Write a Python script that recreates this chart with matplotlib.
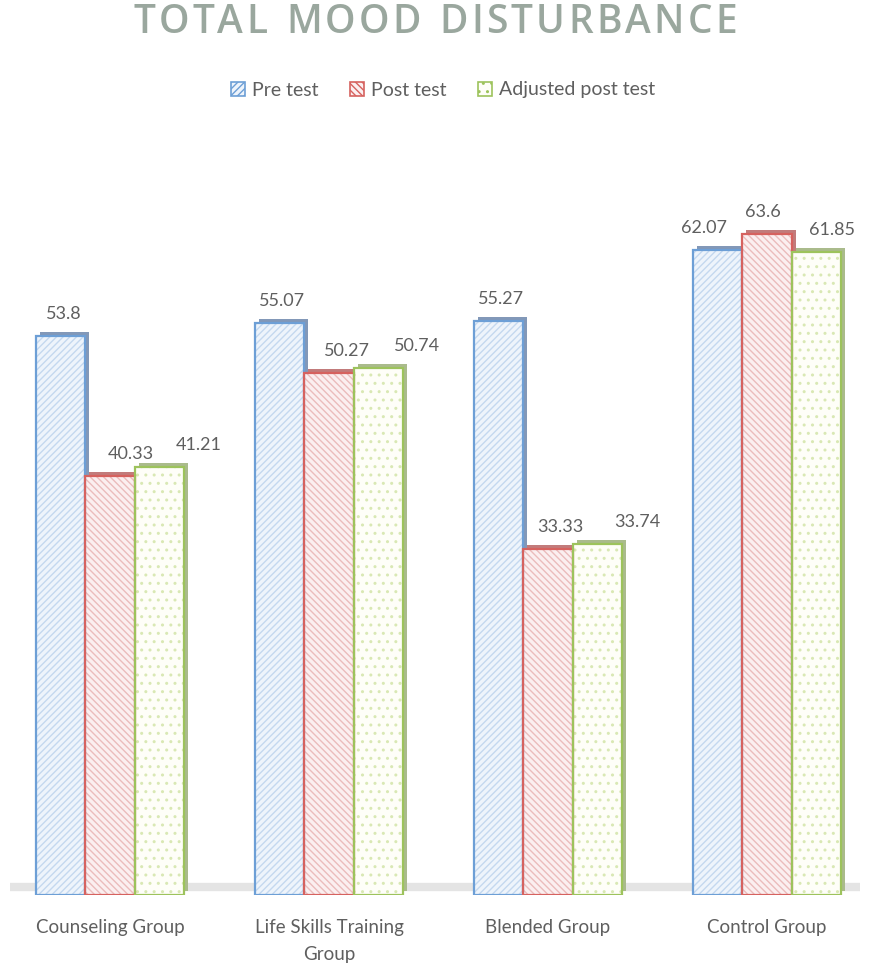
import matplotlib
matplotlib.use("Agg")
import matplotlib.pyplot as plt
import matplotlib.transforms as mtransforms
from matplotlib.patches import Patch
import numpy as np

# ---- data ----
categories = ["Counseling Group", "Life Skills Training\nGroup", "Blended Group", "Control Group"]
series_names = ["Pre test", "Post test", "Adjusted post test"]
pre_test = [53.8, 55.07, 55.27, 62.07]
post_test = [40.33, 50.27, 33.33, 63.6]
adjusted_post_test = [41.21, 50.74, 33.74, 61.85]
title = "TOTAL MOOD DISTURBANCE"

# ---- styling ----
FONT = "Lato"
TEXT = "#5f5f5f"
face_colors = ["#eef4fb", "#fbeff0", "#fefef8"]
hatch_colors = ["#c4d8ef", "#ebbcbc", "#d9e8b4"]
hatches = ["/////", "\\\\\\\\\\", ".."]
edge_colors = ["#6d9fd6", "#d6625f", "#9dc35c"]
side_colors = ["#8298b8", "#c27b7b", "#aabb8c"]
# horizontal nudges (pixels) of the value labels, per series and group
label_dx = [[3, 2, 2, -14], [21, 18, 12, -4], [40, 39, 40, 16]]

W, H, DPI = 870, 966, 100
fig = plt.figure(figsize=(W / DPI, H / DPI), dpi=DPI)
fig.patch.set_facecolor("white")

# axes placement: group centres at 110 + 219*i pixels, baseline at 895 px
left_px, right_px = 10, 860
base_px = 895
ymax = 70
px_per_unit = 10.39
ax = fig.add_axes([left_px / W, (H - base_px) / H,
                   (right_px - left_px) / W, ymax * px_per_unit / H])
ax.set_xlim((left_px - 110) / 219, (right_px - 110) / 219)
ax.set_ylim(0, ymax)
for s in ax.spines.values():
    s.set_visible(False)
ax.set_yticks([])

x = np.arange(len(categories))
width = 0.224
values = [pre_test, post_test, adjusted_post_test]
offsets = [-width, 0, width]

# depth of the extruded bars (pixels)
depth = mtransforms.ScaledTranslation(4 / DPI, 4 / DPI, fig.dpi_scale_trans)

# floor band
ax.axhline(0.75, color="#e2e2e2", lw=6, zorder=0.5, alpha=0.9)

for k in range(3):
    xs = x + offsets[k]
    # side/top faces: same bars shifted up and right, drawn behind
    sides = ax.bar(xs, values[k], width, color=side_colors[k], linewidth=0,
                   zorder=1 + k * 0.01)
    for b in sides:
        b.set_transform(ax.transData + depth)
    # textured front face
    ax.bar(xs, values[k], width, color=face_colors[k], hatch=hatches[k],
           edgecolor=hatch_colors[k], linewidth=0, zorder=2)
    # outline
    ax.bar(xs, values[k], width, fill=False, edgecolor=edge_colors[k],
           linewidth=1.6, zorder=3)
    for i, v in enumerate(values[k]):
        ax.annotate(f"{v:g}", (xs[i], v), xytext=(label_dx[k][i], 22),
                    textcoords="offset pixels", ha="center", va="center",
                    fontsize=13, color=TEXT, family=FONT, zorder=5)

ax.set_xticks(x)
ax.set_xticklabels(categories, fontsize=13.5, color=TEXT, family=FONT,
                   linespacing=1.75)
ax.tick_params(axis="x", length=0, pad=17)

# title, letter-spaced: lay out the characters one by one
renderer = fig.canvas.get_renderer()
title_kw = dict(fontsize=28, color="#9aa79e", family="Open Sans",
                fontweight="semibold", va="center", ha="left")
tracking = 3.2  # extra pixels between letters
widths = []
for ch in title:
    t = fig.text(0, 0, "n" if ch == " " else ch, **title_kw)
    w = t.get_window_extent(renderer).width
    widths.append(w * 0.5 if ch == " " else w)
    t.remove()
total = sum(widths) + tracking * (len(title) - 1)
xpos = (W - total) / 2
for ch, w in zip(title, widths):
    if ch != " ":
        fig.text(xpos / W, 1 - 23 / H, ch, **title_kw)
    xpos += w + tracking

# legend
handles = [Patch(facecolor=face_colors[k], edgecolor=edge_colors[k],
                 hatch=hatches[k], linewidth=1.2) for k in range(3)]
leg = fig.legend(handles, series_names, ncol=3, loc="center",
                 bbox_to_anchor=(443 / W, 1 - 90 / H), frameon=False,
                 handlelength=0.75, handleheight=0.75, handletextpad=0.35,
                 columnspacing=1.6, prop={"family": FONT, "size": 14})
for t in leg.get_texts():
    t.set_color(TEXT)

fig.savefig("out.png", dpi=DPI, facecolor="white")
